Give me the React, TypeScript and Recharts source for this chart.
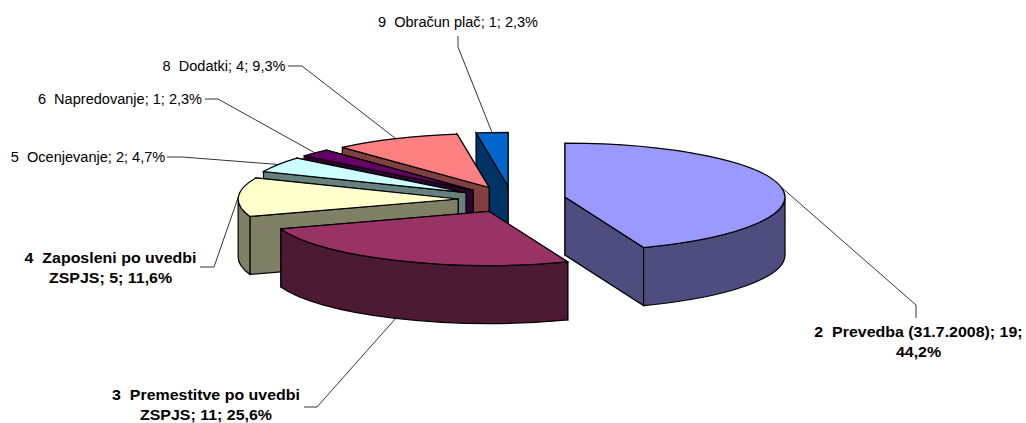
import { Pie, PieChart } from "recharts";

// listed back to front so the slices nearest the viewer are painted last
const names = [
  "9  Obračun plač",
  "8  Dodatki",
  "6  Napredovanje",
  "5  Ocenjevanje",
  "4  Zaposleni po uvedbi ZSPJS",
  "3  Premestitve po uvedbi ZSPJS",
  "2  Prevedba (31.7.2008)",
];
const counts = [1, 4, 1, 2, 5, 11, 19];
const shares = ["2,3%", "9,3%", "2,3%", "4,7%", "11,6%", "25,6%", "44,2%"];

const labelLines = [
  ["9  Obračun plač; 1; 2,3%"],
  ["8  Dodatki; 4; 9,3%"],
  ["6  Napredovanje; 1; 2,3%"],
  ["5  Ocenjevanje; 2; 4,7%"],
  ["4  Zaposleni po uvedbi", "ZSPJS; 5; 11,6%"],
  ["3  Premestitve po uvedbi", "ZSPJS; 11; 25,6%"],
  ["2  Prevedba (31.7.2008); 19;", "44,2%"],
];

const topColors = ["#0066CC", "#FF8080", "#660066", "#CCFFFF", "#FFFFCC", "#993366", "#9999FF"];
const wallColors = ["#003366", "#804040", "#330033", "#668080", "#808066", "#4D1A33", "#4D4D80"];

// text centre, first baseline and leader elbow for each label
const labelCentreX = [458, 224, 120, 88, 110.5, 206, 918.5];
const labelBaseline = [27, 71, 104, 162, 263, 400, 337];
const labelWeight = [400, 400, 400, 400, 700, 700, 700];
const leaderStart = [
  [458, 36],
  [288, 66],
  [205, 99],
  [167, 157],
  [200, 267],
  [304, 407],
  [916, 318],
];
const leaderElbow = [
  [458, 47],
  [302, 66],
  [218, 99],
  [182, 157],
  [214, 267],
  [317, 407],
  [916, 305],
];

const rows = names.map((name, i) => ({ name, value: counts[i], share: shares[i] }));

const RX = 220;
const RY = 54;
const DEPTH = 58;
const EXPLODE = 0.245;

const rad = (d: number) => (d * Math.PI) / 180;
// clockwise from 12 o'clock, squashed into the tilted ellipse
const rim = (cx: number, cy: number, theta: number, r = 1): [number, number] => [
  cx + r * RX * Math.sin(rad(theta)),
  cy - r * RY * Math.cos(rad(theta)),
];
const toTheta = (angle: number) => 90 - angle;

const apexOf = (cx: number, cy: number, mid: number) => rim(cx, cy, mid, EXPLODE);

const Slice3D = (props: any) => {
  const { cx, cy, startAngle, endAngle, index } = props;
  const t1 = toTheta(endAngle) + 360;
  const t2 = toTheta(startAngle) + 360;
  const mid = (t1 + t2) / 2;
  const [ax, ay] = apexOf(cx, cy, mid);
  const p = (t: number) => rim(ax, ay, t);
  const [x1, y1] = p(t1);
  const [x2, y2] = p(t2);
  const large = t2 - t1 > 180 ? 1 : 0;

  const walls = [
    [x1, y1],
    [x2, y2],
  ].sort((a, b) => a[1] - b[1]);

  const from = Math.max(t1, 90);
  const to = Math.min(t2, 270);
  const wall = wallColors[index];
  let outer = null;
  if (to > from) {
    const [fx, fy] = p(from);
    const [tx, ty] = p(to);
    outer = (
      <path
        d={`M${fx},${fy} A${RX},${RY} 0 0 1 ${tx},${ty} L${tx},${ty + DEPTH} A${RX},${RY} 0 0 0 ${fx},${fy + DEPTH} Z`}
        fill={wall}
        stroke="#000"
        strokeWidth={1.2}
      />
    );
  }

  return (
    <g>
      {walls.map(([x, y], i) => (
        <path
          key={i}
          d={`M${ax},${ay} L${x},${y} L${x},${y + DEPTH} L${ax},${ay + DEPTH} Z`}
          fill={wall}
          stroke="#000"
          strokeWidth={1.2}
        />
      ))}
      {outer}
      <path
        d={`M${ax},${ay} L${x1},${y1} A${RX},${RY} 0 ${large} 1 ${x2},${y2} Z`}
        fill={topColors[index]}
        stroke="#000"
        strokeWidth={1.2}
      />
    </g>
  );
};

const SliceLabel = (props: any) => {
  const { cx, cy, midAngle, index } = props;
  const mid = toTheta(midAngle) + 360;
  const [ax, ay] = apexOf(cx, cy, mid);
  const [ex, ey] = rim(ax, ay, mid);
  const onFront = Math.cos(rad(mid)) < -0.5;
  const endY = onFront ? ey + DEPTH : ey;
  const s = leaderStart[index];
  const e = leaderElbow[index];
  const bold = labelWeight[index] === 700;
  return (
    <g>
      <polyline
        points={`${s[0]},${s[1]} ${e[0]},${e[1]} ${ex},${endY}`}
        fill="none"
        stroke="#000"
        strokeWidth={0.8}
      />
      {labelLines[index].map((line, i) => (
        <text
          key={i}
          x={0}
          y={labelBaseline[index] + i * 20}
          // the original text is a little wider than the font at this height
          transform={`translate(${labelCentreX[index]},0) scale(${bold ? 1.14 : 1.04},1)`}
          textAnchor="middle"
          fontFamily="Liberation Sans"
          fontSize={14}
          fontWeight={labelWeight[index]}
          fill="#000"
          style={{ whiteSpace: "pre" }}
        >
          {line}
        </text>
      ))}
    </g>
  );
};

export default function App() {
  return (
    <div style={{ position: "absolute", left: 0, top: 0, background: "#fff" }}>
      <PieChart width={1026} height={423} margin={{ top: 0, right: 0, bottom: 0, left: 0 }}>
        <Pie
          data={rows}
          dataKey="value"
          nameKey="name"
          cx={512}
          cy={199.5}
          innerRadius={0}
          outerRadius={RX}
          startAngle={90}
          endAngle={450}
          stroke="none"
          shape={Slice3D}
          label={SliceLabel}
          labelLine={false}
          isAnimationActive={false}
        />
      </PieChart>
    </div>
  );
}
